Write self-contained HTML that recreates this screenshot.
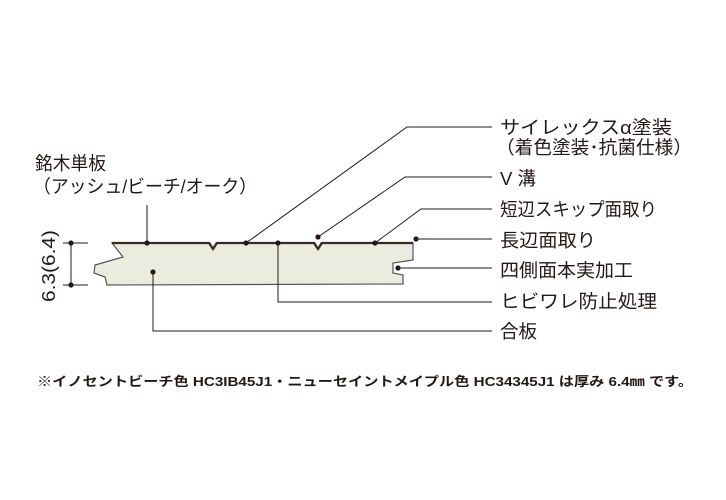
<!DOCTYPE html>
<html><head><meta charset="utf-8"><style>
html,body{margin:0;padding:0;background:#fff;}
svg{display:block;}
text{font-family:"Liberation Sans","Noto Sans CJK JP",sans-serif;fill:#231815;}
</style></head><body>
<svg width="726" height="500" viewBox="0 0 726 500" xmlns="http://www.w3.org/2000/svg">
<g stroke="#231815" stroke-width="1" fill="none">
<path d="M112,243 L210,243 L213,248 L216,243 L315,243 L318,248 L321,243 L413,243 L413,260 L393,263 L393,273 L403,275 L403,284 L107,285 L105,277 L94,273 L95,265 L123,257 Z" fill="#ebebe0" stroke="#555" stroke-width="1.2"/>
<polyline points="112,243 209,243 213,249 217,243 314,243 318,249 322,243 413,243" stroke="#3a2a20" stroke-width="2.2"/>
<line x1="147" y1="205" x2="147" y2="243"/>
<polyline points="246,243 407,127 492,127"/>
<polyline points="318,237 405,177 492,177"/>
<polyline points="375,243 421,209 492,209"/>
<line x1="416" y1="239" x2="492" y2="239"/>
<line x1="398" y1="268" x2="492" y2="268"/>
<polyline points="278,243 278,302 492,302"/>
<polyline points="153,272 153,331 492,331"/>
<line x1="71" y1="243" x2="71" y2="285"/>
<line x1="63" y1="243" x2="88" y2="243"/>
<line x1="63" y1="285" x2="88" y2="285"/>
</g>
<g fill="#231815">
<circle cx="147" cy="243" r="2.6"/><circle cx="246" cy="243" r="2.6"/><circle cx="278" cy="243" r="2.6"/>
<circle cx="375" cy="243" r="2.6"/><circle cx="318" cy="237" r="2.6"/><circle cx="416" cy="239" r="2.6"/>
<circle cx="398" cy="268" r="2.6"/><circle cx="153" cy="272" r="2.6"/>
<circle cx="71" cy="243" r="2.6"/><circle cx="71" cy="285" r="2.6"/>
</g>
<g font-size="18.5">
<text x="500" y="134" textLength="172" lengthAdjust="spacingAndGlyphs">サイレックスα塗装</text>
<text x="496" y="154" textLength="196" lengthAdjust="spacingAndGlyphs">（着色塗装･抗菌仕様）</text>
<text x="500" y="185">V 溝</text>
<text x="500" y="216" textLength="157" lengthAdjust="spacingAndGlyphs">短辺スキップ面取り</text>
<text x="500" y="247" textLength="96" lengthAdjust="spacingAndGlyphs">長辺面取り</text>
<text x="500" y="277" textLength="133" lengthAdjust="spacingAndGlyphs">四側面本実加工</text>
<text x="500" y="308" textLength="157" lengthAdjust="spacingAndGlyphs">ヒビワレ防止処理</text>
<text x="500" y="338">合板</text>
<text x="35" y="170" textLength="71" lengthAdjust="spacingAndGlyphs">銘木単板</text>
<text x="33" y="193" textLength="224" lengthAdjust="spacingAndGlyphs">（アッシュ/ビーチ/オーク）</text>
<text transform="translate(55,266) rotate(-90)" text-anchor="middle" textLength="72" lengthAdjust="spacingAndGlyphs">6.3(6.4)</text>
</g>
<text x="37" y="386" font-size="13" font-weight="bold" textLength="656" lengthAdjust="spacingAndGlyphs">※イノセントビーチ色 HC3IB45J1・ニューセイントメイプル色 HC34345J1 は厚み 6.4㎜ です。</text>
</svg>
</body></html>
